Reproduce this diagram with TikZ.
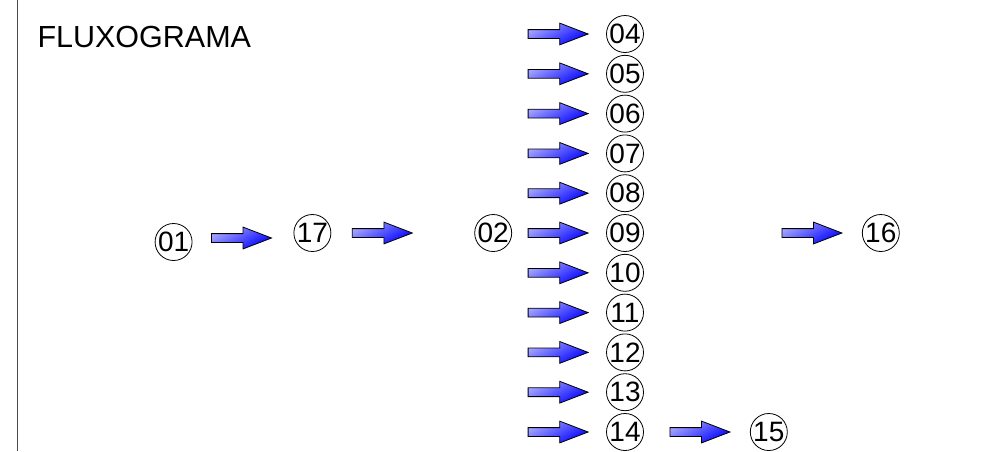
\documentclass[tikz,border=0pt]{standalone}
\usepackage{fontspec}
\setmainfont{Liberation Sans}
\usetikzlibrary{positioning, shapes.arrows}
\tikzset{
    num/.style={circle, draw, line width=0.8pt, minimum size=37pt, inner sep=0pt, font=\fontsize{28}{30}\selectfont},
    blockarrow/.style={single arrow, draw=black, line width=0.8pt, minimum height=60pt,
        single arrow head extend=6.5pt, single arrow tip angle=42, inner xsep=0pt, inner ysep=4pt, outer sep=0pt,
        top color=blue!35!white, bottom color=blue, shading angle=30},
    frameline/.style={line width=1pt, black!70},
    node distance=2pt
}

\begin{document}
\begin{tikzpicture}[x=1pt, y=-1pt]
    \useasboundingbox (0,0) rectangle (1000,451);

    \coordinate (top) at (17,0);
    \coordinate (bottom) at (17,451);
    \draw[frameline] (top) -- (bottom);

    \node (title) [anchor=base west, font=\fontsize{30.5}{32}\selectfont] at (34,47) {FLUXOGRAMA};

    % column of steps
    \node[num]  (c04) at (625,34)        {04};
    \node[num]  (c05) [below=of c04]     {05};
    \node[num]  (c06) [below=of c05]     {06};
    \node[num]  (c07) [below=of c06]     {07};
    \node[num]  (c08) [below=of c07]     {08};
    \node[num]  (c09) [below=of c08]     {09};
    \node[num]  (c10) [below=of c09]     {10};
    \node[num]  (c11) [below=of c10]     {11};
    \node[num]  (c12) [below=of c11]     {12};
    \node[num]  (c13) [below=of c12]     {13};
    \node[num]  (c14) [below=of c13]     {14};

    \node[blockarrow]  (a04) [left=18pt of c04] {};
    \node[blockarrow]  (a05) [left=18pt of c05] {};
    \node[blockarrow]  (a06) [left=18pt of c06] {};
    \node[blockarrow]  (a07) [left=18pt of c07] {};
    \node[blockarrow]  (a08) [left=18pt of c08] {};
    \node[blockarrow]  (a09) [left=18pt of c09] {};
    \node[blockarrow]  (a10) [left=18pt of c10] {};
    \node[blockarrow]  (a11) [left=18pt of c11] {};
    \node[blockarrow]  (a12) [left=18pt of c12] {};
    \node[blockarrow]  (a13) [left=18pt of c13] {};
    \node[blockarrow]  (a14) [left=18pt of c14] {};

    % main line
    \node[num]         (c02) [left=16pt of a09]              {02};
    \node[blockarrow]  (a02) [left=62pt of c02]              {};
    \node[num]         (c17) [left=21pt of a02]              {17};
    \node[blockarrow]  (a17) [left=22pt of c17, yshift=-5pt] {};
    \node[num]         (c01) [left=19pt of a17, yshift=-4pt] {01};

    \node[blockarrow]  (a16) [right=138pt of c09] {};
    \node[num]         (c16) [right=20pt of a16]  {16};

    \node[blockarrow]  (a15) [right=26pt of c14]  {};
    \node[num]         (c15) [right=20pt of a15]  {15};
\end{tikzpicture}
\end{document}
